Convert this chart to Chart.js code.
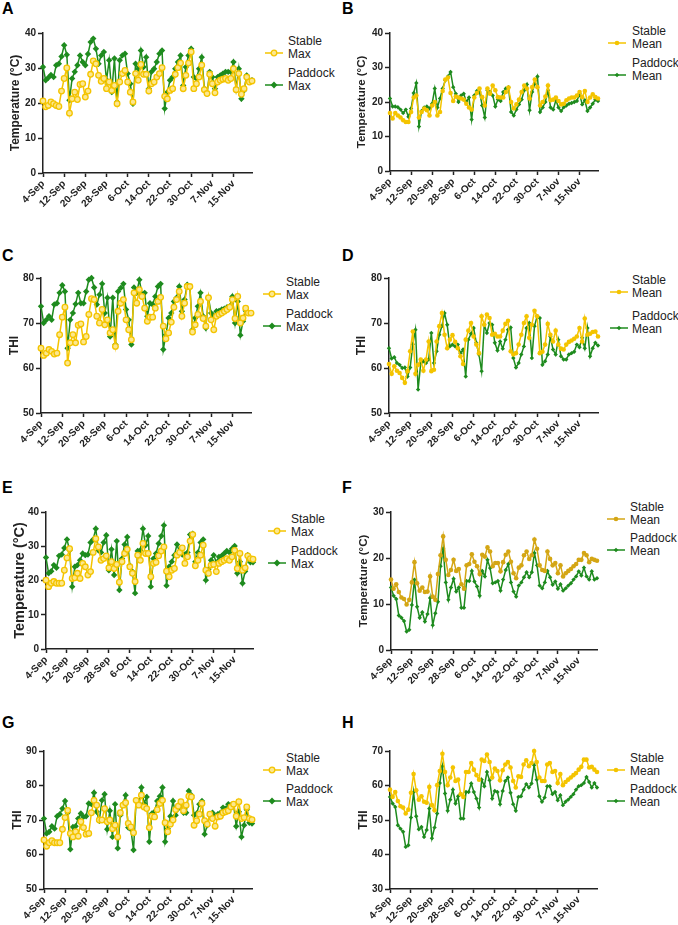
<!DOCTYPE html>
<html>
<head>
<meta charset="utf-8">
<script src="https://cdn.jsdelivr.net/npm/chart.js@4.4.1/dist/chart.umd.min.js"></script>
<style>
  body { margin: 0; background: #fff; width: 678px; height: 925px; position: relative; overflow: hidden;
         font-family: "Liberation Sans", Arial, sans-serif; }
  .panel { position: absolute; }
  .letter { position: absolute; font-weight: bold; font-size: 16px; line-height: 16px; color: #000; }
  .leg { position: absolute; font-size: 12px; line-height: 13px; color: #222; }
  .mark { position: absolute; }
</style>
</head>
<body>
<script>
// x categories (one per day)
const dates = [
  '4-Sep','5-Sep','6-Sep','7-Sep','8-Sep','9-Sep','10-Sep','11-Sep','12-Sep','13-Sep','14-Sep','15-Sep','16-Sep','17-Sep',
  '18-Sep','19-Sep','20-Sep','21-Sep','22-Sep','23-Sep','24-Sep','25-Sep','26-Sep','27-Sep','28-Sep','29-Sep','30-Sep',
  '1-Oct','2-Oct','3-Oct','4-Oct','5-Oct','6-Oct','7-Oct','8-Oct','9-Oct','10-Oct','11-Oct','12-Oct','13-Oct','14-Oct',
  '15-Oct','16-Oct','17-Oct','18-Oct','19-Oct','20-Oct','21-Oct','22-Oct','23-Oct','24-Oct','25-Oct','26-Oct','27-Oct',
  '28-Oct','29-Oct','30-Oct','31-Oct',
  '1-Nov','2-Nov','3-Nov','4-Nov','5-Nov','6-Nov','7-Nov','8-Nov','9-Nov','10-Nov','11-Nov','12-Nov','13-Nov','14-Nov',
  '15-Nov','16-Nov','17-Nov','18-Nov','19-Nov','20-Nov','21-Nov','22-Nov'
];
const tickEvery = 8;

// A - max temperature
const stableMaxA = [20.6,18.9,19.3,20.3,19.8,19.3,19.0,23.4,27.0,30.0, 17.1,21.2,23.1,21.0,25.3,25.5,21.7,23.4,28.2,32.0,
  31.2,27.9,26.2,27.0,24.1,26.0,23.6,25.0,19.8,26.0, 28.4,29.3,26.0,23.1,20.3,28.4,26.5,31.0,28.2,28.2,
  23.4,25.5,26.0,27.4,28.4,30.1,21.9,21.2,23.6,24.1, 28.2,30.1,31.4,24.1,27.9,31.4,34.6,24.1,25.5,27.4,
  30.8,23.8,22.7,28.2,25.5,22.9,26.0,26.5,26.8,27.0, 26.5,27.0,29.8,23.8,28.4,22.5,24.1,27.4,26.0,26.3];
const paddockMaxA = [30.3,26.5,27.2,28.0,27.4,30.8,31.2,33.3,36.5,33.8, 20.8,27.0,28.9,30.8,33.6,31.7,30.8,34.0,37.4,38.4,
  35.5,31.2,33.6,34.6,26.5,32.2,23.1,32.7,20.3,32.2, 33.6,34.1,28.4,25.5,19.8,31.2,29.8,35.0,30.3,33.1,
  24.1,28.9,29.8,31.7,34.1,35.0,18.4,23.1,26.5,27.4, 29.8,31.7,33.6,25.0,30.3,33.6,35.5,27.4,27.0,29.8,
  33.1,24.1,22.7,28.9,27.4,24.1,27.4,27.9,28.4,28.9, 28.9,28.9,31.7,24.1,29.8,21.2,23.6,27.9,26.5,26.5];

// B - mean temperature
const stableMeanB = [16.8,15.2,16.8,16.1,15.5,14.7,14.2,14.2,17.1,21.3, 21.9,15.5,17.1,18.1,17.6,16.1,19.0,20.0,16.1,17.1,
  23.2,26.5,27.1,22.6,20.3,21.6,21.3,21.0,20.7,19.5, 18.4,17.8,21.3,22.6,23.9,21.4,19.0,23.9,22.4,24.8,
  23.4,21.4,21.3,21.3,22.9,24.2,20.0,18.1,19.3,20.7, 22.9,24.8,23.9,21.0,24.3,26.5,24.3,19.0,20.0,21.6,
  24.8,20.5,20.7,21.3,20.3,19.3,19.5,20.5,21.0,21.3, 21.3,21.9,22.9,21.4,23.2,20.0,21.3,22.2,21.4,21.0];
const paddockMeanB = [21.0,18.7,18.7,18.5,17.8,16.8,17.8,15.7,18.1,22.6, 25.5,12.9,17.4,18.4,18.7,18.1,19.5,23.9,18.4,21.0,
  23.9,26.3,27.4,28.7,24.3,22.4,20.0,21.9,22.4,20.0, 21.3,14.9,21.9,23.2,22.9,19.0,15.5,23.4,22.9,21.9,
  18.7,20.7,20.3,22.9,23.9,24.3,17.1,16.1,17.8,19.3, 20.7,23.4,25.1,17.6,22.9,25.3,27.4,17.1,18.4,20.0,
  23.4,18.4,17.8,20.5,18.4,17.4,18.5,19.0,19.5,19.7, 20.0,20.3,22.4,19.3,20.5,17.4,18.4,19.5,20.7,20.3];

// C - max THI
const stableMaxC = [64.4,62.8,63.3,64.1,63.7,63.1,63.3,67.4,71.3,73.5, 61.1,65.6,67.4,65.6,69.5,69.8,65.8,67.0,71.9,75.4,
  75.2,71.5,70.0,73.0,69.6,70.7,67.8,68.5,64.8,72.6, 74.4,75.2,70.7,68.5,66.3,76.7,74.4,77.4,75.9,73.3,
  70.4,71.3,71.3,73.3,74.8,75.7,69.3,66.5,67.8,70.2, 73.5,75.2,77.0,71.5,74.4,78.1,78.1,68.0,69.6,71.9,
  74.8,71.0,69.3,75.6,70.7,68.5,71.5,71.9,72.2,72.6, 73.0,73.5,75.2,71.0,75.9,70.0,71.1,73.3,72.2,72.2];
const paddockMaxC = [73.7,70.0,70.7,71.5,70.7,74.1,74.4,76.7,78.4,77.0, 64.4,70.7,72.2,74.2,76.7,74.4,74.4,77.0,79.6,80.0,
  77.9,74.1,76.3,78.7,72.2,75.6,67.0,75.6,65.2,77.0, 77.8,78.7,73.0,70.7,65.2,77.9,76.7,79.6,76.4,76.7,
  71.5,74.4,74.1,75.9,78.1,78.7,64.1,67.4,71.1,72.2, 74.8,75.6,78.1,72.6,75.2,78.5,77.9,68.5,71.1,73.7,
  76.7,71.5,68.9,75.6,72.2,71.5,72.6,72.7,73.0,73.2, 73.5,73.7,75.9,70.0,74.8,67.3,70.4,72.7,72.2,72.2];

// D - mean THI
const stableMeanD = [60.9,58.7,60.4,59.4,58.9,57.8,56.7,59.3,63.7,68.1, 58.7,60.7,61.9,59.4,61.9,65.9,59.3,59.6,65.9,69.3,
  72.2,67.4,64.4,66.3,67.3,65.8,64.4,62.6,60.9,66.3, 68.3,70.0,67.0,65.2,63.3,71.5,69.6,71.9,71.1,67.4,
  67.6,67.0,67.0,68.3,69.8,70.5,63.7,63.0,63.3,65.2, 67.4,70.0,71.5,66.7,69.6,72.7,71.5,63.3,63.6,65.2,
  69.8,67.4,65.9,68.3,65.2,64.3,64.1,65.2,65.8,66.1, 66.5,67.0,68.9,65.9,71.0,67.4,67.6,68.0,68.1,67.0];
const paddockMeanD = [64.4,62.1,62.4,61.1,60.7,60.0,60.1,58.1,60.1,65.3, 68.5,55.2,61.1,61.5,61.1,61.9,67.8,61.1,63.7,67.4,
  69.3,72.2,69.6,64.8,65.2,64.8,65.2,63.3,64.1,58.1, 66.3,67.6,68.9,65.6,63.0,59.3,69.6,67.8,70.0,69.6,
  65.6,63.9,65.9,64.3,66.3,68.5,69.0,62.2,60.1,61.1, 63.0,64.8,68.9,70.0,62.2,69.3,71.5,71.1,60.7,61.5,
  63.0,67.0,64.1,63.0,66.3,62.6,61.9,61.9,63.0,63.3, 63.6,65.2,64.6,66.7,64.4,68.9,62.6,64.4,65.6,65.0];

// E - max temperature
const stableMaxE = [20.1,18.2,19.2,19.7,19.2,19.2,19.2,23.0,26.6,29.3, 20.6,20.8,22.1,20.6,25.0,24.0,21.6,22.6,28.2,32.2,
  29.8,25.9,26.4,27.2,23.7,25.5,23.5,24.7,19.5,25.5, 27.9,29.1,24.0,22.1,19.7,27.4,25.9,30.8,27.9,27.9,
  21.1,25.0,25.3,27.2,28.6,29.8,22.7,21.1,23.0,23.5, 27.4,28.2,29.5,25.0,26.9,31.5,33.4,24.3,25.9,27.4,
  30.3,23.0,22.1,24.5,24.7,22.6,25.0,25.5,25.9,26.4, 25.9,26.9,28.8,23.5,27.9,23.0,23.7,27.2,26.4,26.2];
const paddockMaxE = [26.7,22.1,22.7,24.5,23.7,27.2,27.6,29.5,32.0,28.8, 18.2,24.0,24.5,25.9,27.9,27.4,27.6,31.1,32.0,35.1,
  28.8,28.2,31.1,33.2,23.0,29.1,21.6,31.5,17.2,26.4, 30.5,32.7,24.3,22.6,16.3,28.6,28.8,35.1,30.3,33.0,
  18.2,26.4,27.9,30.8,33.0,36.1,18.5,24.0,25.5,27.4, 30.5,28.2,27.6,27.6,28.2,33.4,33.7,25.5,28.2,31.1,
  32.0,20.1,23.3,25.9,27.4,25.3,26.9,27.2,27.9,28.6, 28.2,29.3,30.1,22.1,25.5,19.2,22.7,27.4,25.3,25.3];

// F - mean temperature
const stableMeanF = [15.3,13.3,14.3,12.6,11.4,11.1,9.9,10.9,14.7,19.1, 14.5,12.9,13.6,12.6,12.7,16.0,11.6,10.9,16.5,20.6,
  24.7,19.6,16.3,17.4,19.6,17.2,17.6,14.3,13.3,18.4, 18.7,20.8,19.2,18.2,16.5,20.7,20.3,22.3,21.4,18.2,
  18.9,18.9,17.1,19.1,20.7,21.4,19.2,16.7,15.6,17.9, 18.4,20.6,21.4,19.8,20.6,24.0,22.0,18.4,17.4,17.2,
  21.4,19.8,18.4,18.9,16.7,18.4,16.0,16.7,17.2,17.6, 18.2,18.7,19.6,19.6,21.1,20.6,19.1,19.8,19.6,19.4];
const paddockMeanF = [13.6,11.8,11.1,7.5,7.0,6.3,4.0,4.4,9.8,15.3, 9.4,7.0,8.2,6.2,7.8,11.3,5.4,8.0,10.5,18.2,
  22.0,14.7,10.9,13.6,15.5,12.7,13.6,9.2,9.2,15.0, 15.0,17.2,14.9,13.8,11.8,17.2,16.0,19.6,17.8,14.5,
  14.7,15.0,12.9,15.3,17.4,18.7,14.7,12.7,11.6,14.0, 14.7,15.8,16.9,15.8,16.9,21.1,18.4,14.0,13.4,14.7,
  17.2,15.8,14.2,14.9,13.3,14.3,12.9,13.4,14.0,14.5, 15.3,16.0,17.1,16.2,17.9,16.0,15.3,17.1,15.3,15.6];

// G - max THI
const stableMaxG = [64.2,62.4,63.4,64.0,63.4,63.4,63.4,67.3,70.7,72.8, 66.1,65.1,66.6,65.3,69.5,67.8,65.9,66.1,72.1,75.7,
  74.3,70.0,70.0,73.3,69.5,70.0,67.5,68.5,65.1,72.1, 74.3,75.0,69.0,68.0,66.3,75.7,74.3,77.2,73.8,73.3,
  67.8,71.1,70.9,73.0,74.8,75.7,69.2,66.6,68.8,70.0, 73.0,74.0,75.3,72.7,74.3,76.9,76.7,68.5,69.8,71.7,
  74.8,69.8,68.8,71.7,70.4,68.2,70.9,71.1,72.1,72.4, 72.7,73.8,74.6,71.1,75.3,70.4,70.7,73.8,70.4,70.1];
const paddockMaxG = [70.4,66.1,66.6,68.2,67.5,71.1,71.7,73.3,75.5,72.1, 61.5,68.0,68.2,70.4,71.9,70.9,71.1,74.8,74.6,77.9,
  72.4,69.8,75.7,77.5,67.3,72.7,65.1,74.6,61.8,71.4, 74.6,77.2,67.8,67.3,61.3,75.7,74.8,79.4,74.8,76.7,
  63.7,71.9,72.4,75.5,76.9,79.4,63.7,67.5,71.1,75.5, 71.4,73.3,75.0,72.1,72.1,78.4,77.2,71.4,71.9,74.6,
  75.5,65.9,68.5,71.4,72.1,71.1,71.7,72.1,73.6,73.3, 74.6,74.3,74.6,68.2,72.4,65.1,68.5,73.0,69.2,69.0];

// H - mean THI
const stableMeanH = [58.8,56.7,58.1,55.5,54.0,53.6,51.9,53.0,57.9,63.3, 58.6,55.9,56.9,55.3,55.0,59.6,54.3,52.8,60.1,64.2,
  69.2,63.9,60.1,62.3,65.2,61.3,61.7,57.5,56.7,63.9, 63.9,66.5,64.6,63.0,61.7,67.5,67.1,69.0,66.8,62.3,
  64.9,64.2,61.5,64.4,66.1,66.8,65.2,61.3,59.4,62.7, 62.5,66.1,67.3,65.6,66.5,70.0,66.8,62.3,61.3,61.3,
  66.1,66.5,63.9,64.2,60.7,63.3,60.1,61.0,61.7,62.3, 63.0,63.6,64.6,65.4,67.5,67.5,65.2,65.4,64.6,63.9];
const paddockMeanH = [56.7,54.8,53.8,48.5,47.5,46.6,42.2,42.7,50.7,58.1, 51.1,47.3,48.0,45.1,47.1,53.3,44.7,47.8,51.9,60.7,
  65.6,57.7,52.7,55.9,58.8,54.8,56.9,50.4,50.4,58.1, 58.1,60.6,58.1,56.2,53.6,61.7,59.8,63.9,61.5,56.2,
  58.4,58.1,54.6,58.4,61.3,62.3,57.9,54.6,52.7,56.7, 56.9,58.8,60.4,59.4,60.6,65.9,61.7,56.9,55.3,56.5,
  59.8,59.8,57.5,58.1,55.7,57.2,54.3,55.3,55.9,56.7, 57.5,58.8,59.8,60.1,60.7,62.5,61.0,59.4,60.7,59.4];

const FONT = '"Liberation Sans", Arial, sans-serif';
const YELLOW = '#F4C400';
const GOLD = '#D4A614';
const GREEN = '#1E8B1E';
const PALE = '#FCE78E';

// layout of each panel (plot area edges in page pixels) and legend spots
const panels = [
  { letter: 'A', lx: 2, ly: 1, stable: stableMaxA, paddock: paddockMaxA, kind: 'Max', title: 'Temperature (°C)', tsize: 12,
    min: 0, max: 40, L: 43, T: 33, R: 252, B: 173, cx: 6, leg: { x: 265, tx: 288, y1: 49, y2: 81 } },
  { letter: 'B', lx: 342, ly: 1, stable: stableMeanB, paddock: paddockMeanB, kind: 'Mean', title: 'Temperature (°C)', tsize: 11.5,
    min: 0, max: 40, L: 390, T: 33, R: 598, B: 171, cx: 353, leg: { x: 608, tx: 632, y1: 39, y2: 71 } },
  { letter: 'C', lx: 2, ly: 248, stable: stableMaxC, paddock: paddockMaxC, kind: 'Max', title: 'THI', tsize: 12,
    min: 50, max: 80, L: 41, T: 278, B: 413, R: 251, cx: 5, leg: { x: 263, tx: 286, y1: 290, y2: 322 } },
  { letter: 'D', lx: 342, ly: 248, stable: stableMeanD, paddock: paddockMeanD, kind: 'Mean', title: 'THI', tsize: 12,
    min: 50, max: 80, L: 389, T: 278, R: 598, B: 413, cx: 352, leg: { x: 610, tx: 632, y1: 288, y2: 324 } },
  { letter: 'E', lx: 2, ly: 480, stable: stableMaxE, paddock: paddockMaxE, kind: 'Max', title: 'Temperature (°C)', tsize: 14.5,
    min: 0, max: 40, L: 46, T: 512, R: 253, B: 649, cx: 9, leg: { x: 268, tx: 291, y1: 527, y2: 559 } },
  { letter: 'F', lx: 342, ly: 480, stable: stableMeanF, paddock: paddockMeanF, kind: 'Mean', title: 'Temperature (°C)', tsize: 11.5,
    min: 0, max: 30, L: 391, T: 512, R: 597, B: 650, cx: 355, gold: true, leg: { x: 607, tx: 630, y1: 515, y2: 546 } },
  { letter: 'G', lx: 2, ly: 715, stable: stableMaxG, paddock: paddockMaxG, kind: 'Max', title: 'THI', tsize: 12,
    min: 50, max: 90, L: 44, T: 751, R: 252, B: 889, cx: 8, leg: { x: 263, tx: 286, y1: 766, y2: 797 } },
  { letter: 'H', lx: 342, ly: 715, stable: stableMeanH, paddock: paddockMeanH, kind: 'Mean', title: 'THI', tsize: 12,
    min: 30, max: 70, L: 390, T: 751, R: 597, B: 889, cx: 354, leg: { x: 607, tx: 630, y1: 766, y2: 797 } }
];

function markerSvg(style, color, fill) {
  let shape;
  if (style === 'ring') shape = `<circle cx="9" cy="5" r="2.8" fill="${fill}" stroke="${color}" stroke-width="1.3"/>`;
  else if (style === 'dot') shape = `<circle cx="9" cy="5" r="2.3" fill="${color}"/>`;
  else if (style === 'diamond') shape = `<path d="M9 1.6 L12.4 5 L9 8.4 L5.6 5 Z" fill="${color}"/>`;
  else shape = `<path d="M9 2.7 L11.3 5 L9 7.3 L6.7 5 Z" fill="${color}"/>`;
  return `<svg width="18" height="10"><line x1="0" y1="5" x2="18" y2="5" stroke="${color}" stroke-width="1.5"/>${shape}</svg>`;
}

function addLegendEntry(x, tx, y, lines, svg) {
  const m = document.createElement('div');
  m.className = 'mark';
  m.style.left = x + 'px'; m.style.top = (y - 5) + 'px';
  m.innerHTML = svg;
  document.body.appendChild(m);
  const t = document.createElement('div');
  t.className = 'leg';
  t.style.left = tx + 'px'; t.style.top = (y - 14) + 'px';
  t.innerHTML = lines.join('<br>');
  document.body.appendChild(t);
}

panels.forEach(p => {
  const stableColor = p.gold ? GOLD : YELLOW;
  const isMax = p.kind === 'Max';

  const letter = document.createElement('div');
  letter.className = 'letter';
  letter.style.left = p.lx + 'px'; letter.style.top = p.ly + 'px';
  letter.textContent = p.letter;
  document.body.appendChild(letter);

  const cy = p.T - 10;
  const xAxisH = 50;
  const w = p.R + 8 - p.cx;
  const h = p.B + xAxisH - cy;
  const box = document.createElement('div');
  box.className = 'panel';
  box.style.left = p.cx + 'px'; box.style.top = cy + 'px';
  const canvas = document.createElement('canvas');
  canvas.width = w; canvas.height = h;
  canvas.style.width = w + 'px'; canvas.style.height = h + 'px';
  box.appendChild(canvas);
  document.body.appendChild(box);

  new Chart(canvas, {
    type: 'line',
    data: {
      labels: dates,
      datasets: [
        {
          label: 'Stable ' + p.kind,
          data: p.stable,
          borderColor: stableColor,
          borderWidth: 1.5,
          pointStyle: 'circle',
          pointRadius: isMax ? 2.8 : 2.3,
          pointBorderWidth: isMax ? 1.3 : 0,
          pointBorderColor: stableColor,
          pointBackgroundColor: isMax ? PALE : stableColor,
          tension: 0,
          clip: false
        },
        {
          label: 'Paddock ' + p.kind,
          data: p.paddock,
          borderColor: GREEN,
          borderWidth: 1.5,
          pointStyle: 'rectRot',
          pointRadius: isMax ? 3.2 : 2.2,
          pointBorderWidth: 0,
          pointBackgroundColor: GREEN,
          tension: 0,
          clip: false
        }
      ]
    },
    options: {
      responsive: false,
      animation: false,
      devicePixelRatio: 1,
      layout: { padding: { top: p.T - cy, right: 8, left: 0, bottom: 0 } },
      plugins: { legend: { display: false }, tooltip: { enabled: false } },
      scales: {
        x: {
          type: 'category',
          offset: false,
          grid: { display: true, drawOnChartArea: false, drawTicks: true, tickLength: 4, tickColor: '#222', tickWidth: 1.5 },
          border: { color: '#222', width: 1.5 },
          ticks: {
            autoSkip: false, minRotation: 45, maxRotation: 45, padding: 1, color: '#222',
            font: { family: FONT, size: 10, weight: 'bold' },
            callback: (v, i) => (i % tickEvery === 0 ? dates[i] : null)
          },
          afterFit: s => { s.height = xAxisH; }
        },
        y: {
          min: p.min, max: p.max,
          grid: { display: true, drawOnChartArea: false, drawTicks: true, tickLength: 5, tickColor: '#222', tickWidth: 1.5 },
          border: { color: '#222', width: 1.5 },
          ticks: { stepSize: 10, padding: 2, color: '#222', font: { family: FONT, size: 10, weight: 'bold' } },
          title: { display: true, text: p.title, color: '#222', padding: { top: 2, bottom: 2 },
                   font: { family: FONT, size: p.tsize, weight: 'bold' } },
          afterFit: s => { s.width = p.L - p.cx; }
        }
      }
    }
  });

  addLegendEntry(p.leg.x, p.leg.tx, p.leg.y1, ['Stable', p.kind],
    markerSvg(isMax ? 'ring' : 'dot', stableColor, PALE));
  addLegendEntry(p.leg.x, p.leg.tx, p.leg.y2, ['Paddock', p.kind],
    markerSvg(isMax ? 'diamond' : 'small', GREEN, GREEN));
});
</script>
</body>
</html>
